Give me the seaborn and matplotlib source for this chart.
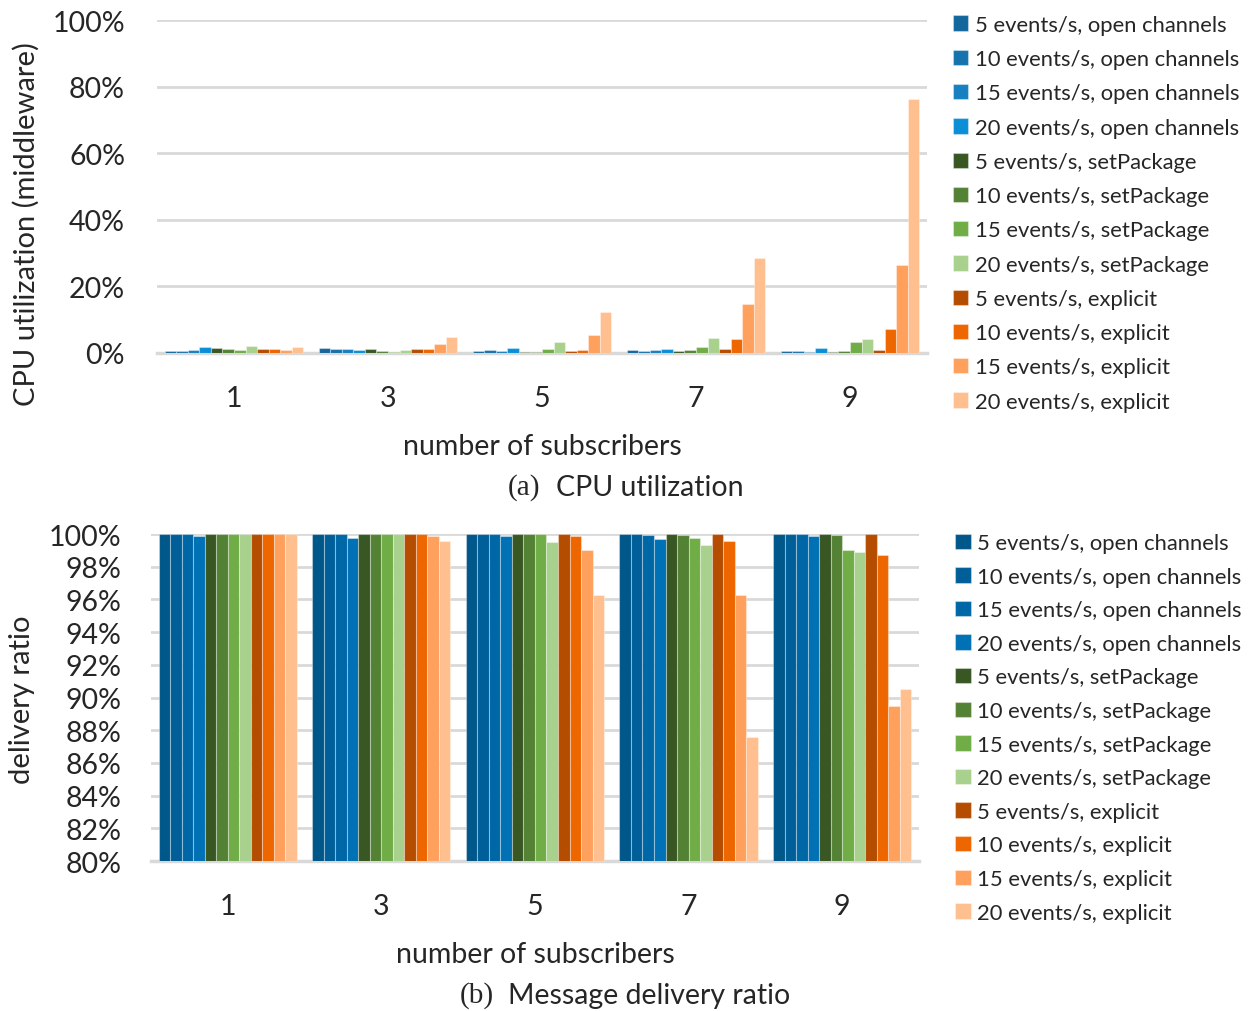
import pandas as pd
import seaborn as sns
import matplotlib.pyplot as plt
from matplotlib.ticker import PercentFormatter

subscribers = ['1', '3', '5', '7', '9']
series = [
    '5 events/s, open channels', '10 events/s, open channels',
    '15 events/s, open channels', '20 events/s, open channels',
    '5 events/s, setPackage', '10 events/s, setPackage',
    '15 events/s, setPackage', '20 events/s, setPackage',
    '5 events/s, explicit', '10 events/s, explicit',
    '15 events/s, explicit', '20 events/s, explicit',
]

# CPU utilization (%), one list per series, values for 1,3,5,7,9 subscribers
cpu = [
    [0.5, 1.4, 0.7, 0.8, 0.7],
    [0.7, 1.2, 1.0, 0.7, 0.7],
    [0.8, 1.2, 0.6, 1.0, 0.2],
    [1.8, 0.9, 1.4, 1.3, 1.4],
    [1.4, 1.1, 0.3, 0.7, 0.2],
    [1.1, 0.7, 0.2, 1.0, 0.7],
    [1.0, 0.4, 1.1, 1.7, 3.4],
    [2.1, 0.8, 3.2, 4.4, 4.1],
    [1.1, 1.2, 0.6, 1.1, 0.9],
    [1.1, 1.2, 1.0, 4.1, 7.1],
    [1.0, 2.7, 5.5, 14.7, 26.4],
    [1.8, 4.7, 12.2, 28.5, 76.3],
]

# delivery ratio (%)
delivery = [
    [100.0, 100.0, 100.0, 100.0, 100.0],
    [100.0, 100.0, 100.0, 100.0, 100.0],
    [100.0, 100.0, 100.0, 99.94, 100.0],
    [99.9, 99.78, 99.9, 99.7, 99.9],
    [100.0, 100.0, 100.0, 100.0, 100.0],
    [100.0, 100.0, 100.0, 99.96, 99.96],
    [100.0, 100.0, 100.0, 99.75, 99.0],
    [100.0, 100.0, 99.5, 99.3, 98.9],
    [100.0, 100.0, 100.0, 100.0, 100.0],
    [100.0, 100.0, 99.88, 99.6, 98.7],
    [100.0, 99.9, 99.0, 96.25, 89.5],
    [100.0, 99.57, 96.3, 87.6, 90.5],
]

colors_top = ['#14679c', '#1673ad', '#1780c1', '#0a8fd6',
              '#385723', '#548235', '#70ad47', '#a9d18e',
              '#b54d00', '#ee6600', '#ffa05c', '#ffbf8f']
colors_bot = ['#00578a', '#005f99', '#0067a7', '#0071b5',
              '#385723', '#548235', '#70ad47', '#a9d18e',
              '#b54d00', '#ee6600', '#ffa05c', '#ffbf8f']


def to_frame(values):
    rows = []
    for name, vals in zip(series, values):
        for s, v in zip(subscribers, vals):
            rows.append({'subs': s, 'series': name, 'value': v})
    return pd.DataFrame(rows)


sns.set_style('white')
plt.rcParams['font.family'] = ['Lato', 'DejaVu Sans']

fig = plt.figure(figsize=(12.53, 10.12), dpi=100)
ax1 = fig.add_axes([0.1253, 0.6502, 0.6145, 0.329])
ax2 = fig.add_axes([0.1205, 0.1482, 0.6129, 0.3231])

settings = [
    (ax1, cpu, colors_top, (0, 100), 20, 'CPU utilization (middleware)', 23, 1.022, 1.042, 0.65),
    (ax2, delivery, colors_bot, (80, 100), 2, 'delivery ratio', 21.5, 1.036, 1.03, 0.62),
]
for ax, values, pal, ylim, step, ylab, ypad, lx, ly, lsp in settings:
    df = to_frame(values)
    sns.barplot(data=df, x='subs', y='value', hue='series', hue_order=series,
                palette=pal, saturation=1, width=0.9, ax=ax,
                edgecolor=(1, 1, 1, 0.35), linewidth=0.8, zorder=3)
    ax.set_ylim(*ylim)
    ax.set_yticks(range(ylim[0], ylim[1] + 1, step))
    ax.yaxis.set_major_formatter(PercentFormatter(decimals=0))
    ax.grid(axis='y', color='#d9d9d9', linewidth=2, zorder=0)
    ax.set_axisbelow(True)
    sns.despine(ax=ax, left=True, top=True, right=True)
    ax.spines['bottom'].set_color('#d9d9d9')
    ax.spines['bottom'].set_linewidth(2.5)
    ax.tick_params(axis='both', length=0, labelsize=20.5)
    ax.tick_params(axis='x', pad=23)
    ax.tick_params(axis='y', pad=ypad)
    ax.set_xlabel('number of subscribers', fontsize=20.5, labelpad=16)
    ax.set_ylabel(ylab, fontsize=21)
    ax.legend(loc='upper left', bbox_to_anchor=(lx, ly), frameon=False,
              fontsize=15.8, handlelength=0.7, handleheight=0.7,
              handletextpad=0.3, labelspacing=lsp, borderaxespad=0)

ax1.yaxis.set_label_coords(-0.152, 0.39)
ax2.yaxis.set_label_coords(-0.151, 0.495)

fig.text(0.4054, 0.5178, '(a)', family='Liberation Serif', fontsize=21, va='center')
fig.text(0.4437, 0.5178, 'CPU utilization', fontsize=20.5, va='center')
fig.text(0.367, 0.016, '(b)', family='Liberation Serif', fontsize=21, va='center')
fig.text(0.4054, 0.016, 'Message delivery ratio', fontsize=20.5, va='center')

fig.savefig('out.png', dpi=100)
